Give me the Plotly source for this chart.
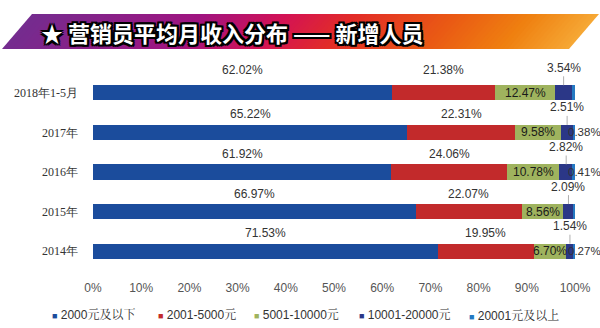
import plotly.graph_objects as go

# ---------------- data ----------------
categories = ["2018年1-5月", "2017年", "2016年", "2015年", "2014年"]
series_names = ["2000元及以下", "2001-5000元", "5001-10000元", "10001-20000元", "20001元及以上"]
s_le2000 = [62.02, 65.22, 61.92, 66.97, 71.53]
s_2001_5000 = [21.38, 22.31, 24.06, 22.07, 19.95]
s_5001_10000 = [12.47, 9.58, 10.78, 8.56, 6.70]
s_10001_20000 = [3.54, 2.51, 2.82, 2.09, 1.54]
s_20001 = [0.59, 0.38, 0.41, 0.32, 0.27]
x_ticks = [0, 10, 20, 30, 40, 50, 60, 70, 80, 90, 100]
title_text = "★ 营销员平均月收入分布 —— 新增人员"

series = [s_le2000, s_2001_5000, s_5001_10000, s_10001_20000, s_20001]
colors = ["#1b4c9c", "#c22a2b", "#9fb35e", "#2b3787", "#2479c2"]

W, H = 600, 328
ML, MR, MT, MB = 93, 25, 73, 57
PW, PH = W - ML - MR, H - MT - MB


def px_x(px):
    return (px - ML) / PW


def px_y(py):
    return (H - MB - py) / PH


fig = go.Figure()
for name, vals, col in zip(series_names, series, colors):
    fig.add_trace(go.Bar(
        y=categories, x=vals, name=name, orientation="h",
        marker=dict(color=col, line=dict(width=0)),
        showlegend=False, hoverinfo="skip",
    ))

annotations = []
label_font = dict(family="Liberation Sans, Arial", size=12, color="#333333")
for i, cat in enumerate(categories):
    cum = 0.0
    above_shift = 23 if i == 0 else 18
    for k, vals in enumerate(series):
        v = vals[i]
        center = cum + v / 2
        txt = f"{v:.2f}%"
        if k in (0, 1):
            annotations.append(dict(x=center, y=cat, xref="x", yref="y", text=txt,
                                    showarrow=False, yshift=above_shift, font=label_font))
        elif k == 2:
            annotations.append(dict(x=center, y=cat, xref="x", yref="y", text=txt,
                                    showarrow=False,
                                    font=dict(family="Liberation Sans, Arial", size=12, color="#1a1a1a")))
        elif k == 3:
            annotations.append(dict(x=center, y=cat, xref="x", yref="y", text=txt,
                                    showarrow=True, arrowhead=0, arrowwidth=0.8,
                                    arrowcolor="#9a9a9a", ax=0, ay=-25, standoff=7.5,
                                    font=label_font))
        else:
            annotations.append(dict(x=cum + v, y=cat, xref="x", yref="y", text=txt,
                                    showarrow=False, xanchor="left", xshift=-9,
                                    font=dict(family="Liberation Sans, Arial", size=11.5, color="#333333")))
        cum += v

# title banner (gradient parallelogram built from thin strips)
stops = [(0.00, (0x74, 0x2c, 0x8f)), (0.30, (0xa0, 0x14, 0x80)), (0.45, (0xd3, 0x12, 0x55)),
         (0.57, (0xe2, 0x2c, 0x28)), (0.75, (0xea, 0x5a, 0x14)), (0.88, (0xef, 0x80, 0x10)),
         (1.00, (0xf6, 0xa8, 0x35))]


def grad(t):
    for (t0, c0), (t1, c1) in zip(stops[:-1], stops[1:]):
        if t0 <= t <= t1:
            f = (t - t0) / (t1 - t0) if t1 > t0 else 0
            c = [round(a + (b - a) * f) for a, b in zip(c0, c1)]
            return "rgb(%d,%d,%d)" % tuple(c)
    return "rgb(%d,%d,%d)" % stops[-1][1]


shapes = []
N = 120
bx0, bx1, off, ytop, ybot = 2, 569, 30, 14, 49
for j in range(N):
    t0 = j / N
    t1 = min(1.0, (j + 1.6) / N)
    xa = bx0 + (bx1 - bx0) * t0
    xb = bx0 + (bx1 - bx0) * t1
    col = grad((j + 0.5) / N)
    path = "M {:.5f},{:.5f} L {:.5f},{:.5f} L {:.5f},{:.5f} L {:.5f},{:.5f} Z".format(
        px_x(xa), px_y(ybot), px_x(xb), px_y(ybot),
        px_x(xb + off), px_y(ytop), px_x(xa + off), px_y(ytop))
    shapes.append(dict(type="path", xref="paper", yref="paper", path=path,
                       fillcolor=col, line=dict(width=0), layer="below"))

annotations.append(dict(
    x=px_x(39), y=px_y(32.5), xref="paper", yref="paper", xanchor="left", yanchor="middle",
    text=title_text, showarrow=False,
    font=dict(family="Noto Sans CJK SC", size=22, color="#ffffff", weight="bold",
              shadow="2px 2px 0 #000, -2px -2px 0 #000, 2px -2px 0 #000, -2px 2px 0 #000, 0 2px 0 #000, 0 -2px 0 #000, 2px 0 0 #000, -2px 0 0 #000"),
))

# legend drawn as text items
legend_x = [50, 156, 252, 357, 467]
for name, col, lx in zip(series_names, colors, legend_x):
    annotations.append(dict(
        x=px_x(lx), y=px_y(315), xref="paper", yref="paper", xanchor="left", yanchor="middle",
        showarrow=False,
        text=f"<span style='color:{col};font-size:9px'>■</span> {name}",
        font=dict(family="Liberation Sans, Noto Serif CJK SC, serif", size=12, color="#333333"),
    ))

fig.update_layout(
    width=W, height=H,
    margin=dict(l=ML, r=MR, t=MT, b=MB, pad=0, autoexpand=False),
    barmode="stack", bargap=0.62,
    plot_bgcolor="white", paper_bgcolor="white",
    showlegend=False,
    annotations=annotations,
    shapes=shapes,
    xaxis=dict(range=[0, 100], autorange=False, tickvals=x_ticks, ticktext=[f"{v}%" for v in x_ticks],
               showgrid=False, zeroline=False, showline=False, ticks="",
               automargin=False, ticklabelstandoff=8,
               tickfont=dict(family="Liberation Sans, Arial", size=12, color="#555555")),
    yaxis=dict(categoryorder="array", categoryarray=categories,
               range=[len(categories) - 0.5, -0.5], autorange=False,
               showgrid=False, zeroline=False, showline=False, ticks="",
               automargin=False, ticklabelstandoff=14,
               tickfont=dict(family="Liberation Serif, serif", size=12, color="#333333")),
)

fig.write_html("out.html")
